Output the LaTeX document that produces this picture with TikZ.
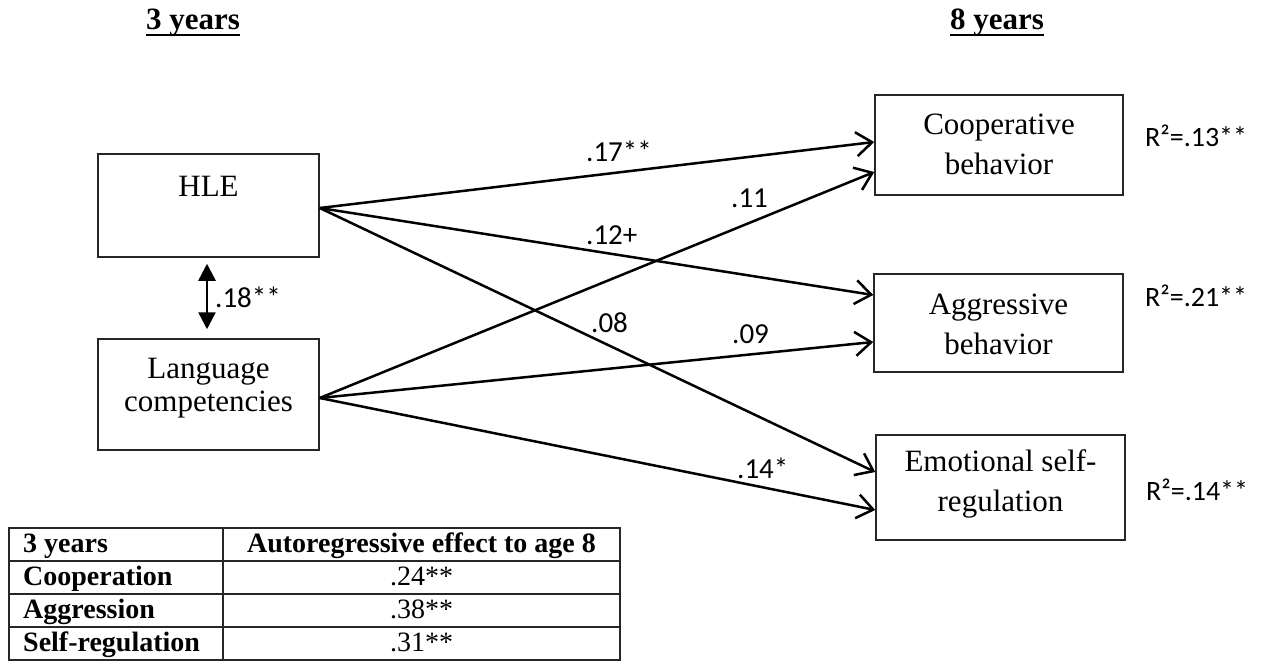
\documentclass[tikz,border=0pt]{standalone}
\usepackage{fontspec}
\setmainfont{Liberation Serif}
\newfontfamily\lblfont{Carlito}
\usetikzlibrary{arrows.meta}
\begin{document}
\begin{tikzpicture}[x=1pt,y=-1pt,
  box/.style={draw=black!85, line width=1.5pt, inner sep=0pt},
  boxtext/.style={font=\fontsize{31}{40}\selectfont, align=center, inner sep=0pt},
  lbl/.style={font=\lblfont\fontsize{29}{34}\selectfont, inner sep=0pt, anchor=base west},
  rlbl/.style={font=\lblfont\fontsize{28}{34}\selectfont, inner sep=0pt, anchor=base west},
  hdr/.style={font=\bfseries\fontsize{31}{36}\selectfont, inner sep=0pt, anchor=base},
  edgearrow/.style={line width=2.5pt, -{Straight Barb[length=16pt,width=24pt]}},
  dblarrow/.style={line width=2.5pt, {Triangle[length=17pt,width=17pt]}-{Triangle[length=17pt,width=17pt]}},
  tabline/.style={line width=1.5pt, draw=black!85},
  tabb/.style={font=\bfseries\fontsize{28}{32}\selectfont, inner sep=0pt},
  tabn/.style={font=\fontsize{28}{32}\selectfont, inner sep=0pt, anchor=base}
]
\useasboundingbox (0,0) rectangle (1277,663);

% headers
\node[hdr] (h3) at (193,30) {3 years};
\draw[line width=2.5pt] ([yshift=-5pt]h3.base west) -- ([yshift=-5pt]h3.base east);
\node[hdr] (h8) at (997,30) {8 years};
\draw[line width=2.5pt] ([yshift=-5pt]h8.base west) -- ([yshift=-5pt]h8.base east);

% boxes
\node[box, minimum width=221pt, minimum height=103pt] (hle) at (208.5,205.5) {};
\node[box, minimum width=221pt, minimum height=111pt] (lang) at (208.5,394.5) {};
\node[box, minimum width=248pt, minimum height=100pt] (coop) at (999,145) {};
\node[box, minimum width=249pt, minimum height=98pt] (aggr) at (998.5,323) {};
\node[box, minimum width=249pt, minimum height=105pt] (emot) at (1000.5,487.5) {};

% box texts
\node[boxtext, anchor=base] (hletext) at (208.5,197) {HLE};
\node[boxtext, font=\fontsize{31}{33}\selectfont] (langtext) at (208.5,388) {Language\\competencies};
\node[boxtext] (cooptext) at (999,144) {Cooperative\\behavior};
\node[boxtext] (aggrtext) at (998.5,324) {Aggressive\\behavior};
\node[boxtext] (emottext) at (1000.5,484) {Emotional self-\\regulation};

% paths
\draw[edgearrow] ([yshift=-2.5pt]hle.east) -- ([yshift=3pt]coop.west);
\draw[edgearrow] ([yshift=-3.5pt]lang.east) -- ([yshift=-27pt]coop.west);
\draw[edgearrow] ([yshift=-2.5pt]hle.east) -- ([yshift=28pt]aggr.west);
\draw[edgearrow] ([yshift=-3.5pt]lang.east) -- ([yshift=-19pt]aggr.west);
\draw[edgearrow] ([yshift=-2.5pt]hle.east) -- ([yshift=15.5pt]emot.west);
\draw[edgearrow] ([yshift=-3.5pt]lang.east) -- ([yshift=-22.5pt]emot.west);

% correlation
\draw[dblarrow, shorten <=6pt, shorten >=9pt] ([xshift=-1.5pt]hle.south) -- ([xshift=-1.5pt]lang.north);
\node[lbl] (l18) at (215,307) {.18**};

% path labels
\node[lbl] (l17) at (586,162) {.17**};
\node[lbl] (l11) at (731,208) {.11};
\node[lbl] (l12) at (586,244) {.12+};
\node[lbl] (l08) at (591,332) {.08};
\node[lbl] (l09) at (732,343) {.09};
\node[lbl] (l14) at (737,478) {.14*};

% R squared
\node[rlbl] (r1) at (1145,147) {R²=.13**};
\node[rlbl] (r2) at (1145,306) {R²=.21**};
\node[rlbl] (r3) at (1146,500) {R²=.14**};

% table
\draw[tabline] (9,528) rectangle (620,660);
\draw[tabline] (9,561) -- (620,561);
\draw[tabline] (9,594) -- (620,594);
\draw[tabline] (9,627) -- (620,627);
\draw[tabline] (223,528) -- (223,660);
\node[tabb, anchor=base west] (t1) at (23,552) {3 years};
\node[tabb, anchor=base] (t2) at (421.5,552) {Autoregressive effect to age 8};
\node[tabb, anchor=base west] (t3) at (23,585) {Cooperation};
\node[tabb, anchor=base west] (t4) at (23,618) {Aggression};
\node[tabb, anchor=base west] (t5) at (23,651) {Self-regulation};
\node[tabn] (v1) at (421.5,585) {.24**};
\node[tabn] (v2) at (421.5,618) {.38**};
\node[tabn] (v3) at (421.5,651) {.31**};
\end{tikzpicture}
\end{document}
